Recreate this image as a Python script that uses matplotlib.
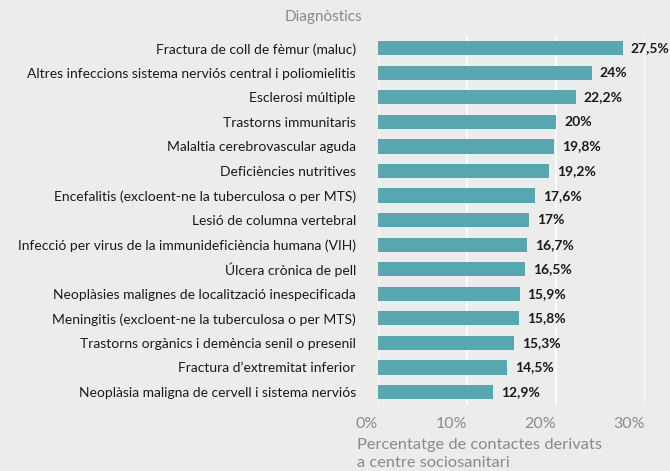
import matplotlib.pyplot as plt

# data
diagnostics = [
    "Fractura de coll de fèmur (maluc)",
    "Altres infeccions sistema nerviós central i poliomielitis",
    "Esclerosi múltiple",
    "Trastorns immunitaris",
    "Malaltia cerebrovascular aguda",
    "Deficiències nutritives",
    "Encefalitis (excloent-ne la tuberculosa o per MTS)",
    "Lesió de columna vertebral",
    "Infecció per virus de la immunideficiència humana (VIH)",
    "Úlcera crònica de pell",
    "Neoplàsies malignes de localització inespecificada",
    "Meningitis (excloent-ne la tuberculosa o per MTS)",
    "Trastorns orgànics i demència senil o presenil",
    "Fractura d’extremitat inferior",
    "Neoplàsia maligna de cervell i sistema nerviós",
]
percentages = [27.5, 24, 22.2, 20, 19.8, 19.2, 17.6, 17, 16.7, 16.5, 15.9, 15.8, 15.3, 14.5, 12.9]
value_labels = ["27,5%", "24%", "22,2%", "20%", "19,8%", "19,2%", "17,6%", "17%",
                "16,7%", "16,5%", "15,9%", "15,8%", "15,3%", "14,5%", "12,9%"]
x_ticks = [0, 10, 20, 30]
x_tick_labels = ["0%", "10%", "20%", "30%"]

bg = "#ececec"
bar_color = "#56a7b0"
grey = "#8a8a8a"

plt.rcParams['font.family'] = ['Lato', 'DejaVu Sans']

fig = plt.figure(figsize=(6.7, 4.71), dpi=100, facecolor=bg)
ax = fig.add_axes([378 / 670, 1 - 405 / 471, (645 - 378) / 670, (405 - 36) / 471])
ax.set_facecolor(bg)

ypos = list(range(len(diagnostics)))
ax.barh(ypos, percentages, height=0.58, color=bar_color, zorder=3)
for y, v, lab in zip(ypos, percentages, value_labels):
    ax.text(v + 0.9, y, lab, va='center', ha='left', fontsize=10,
            fontweight='bold', color='#1a1a1a')

ax.set_xlim(0, 30)
ax.set_ylim(len(diagnostics) - 0.47, -0.5)
ax.set_yticks(ypos)
ax.set_yticklabels(diagnostics, fontsize=10, color='#1a1a1a')
ax.set_xticks(x_ticks)
ax.set_xticklabels(x_tick_labels, fontsize=11.5, color=grey, ha='right')
ax.tick_params(axis='both', length=0)
ax.tick_params(axis='y', pad=16)
ax.tick_params(axis='x', pad=9)
ax.grid(axis='x', color='white', linewidth=1.2, zorder=0)
for s in ax.spines.values():
    s.set_visible(False)

fig.text(362 / 670, 1 - 17 / 471, "Diagnòstics", ha='right', va='center',
         fontsize=11, color=grey)
fig.text(357 / 670, 1 - 438 / 471, "Percentatge de contactes derivats\na centre sociosanitari",
         ha='left', va='top', fontsize=11.8, color=grey, linespacing=1.32)

fig.savefig("out.png", dpi=100, facecolor=bg)
